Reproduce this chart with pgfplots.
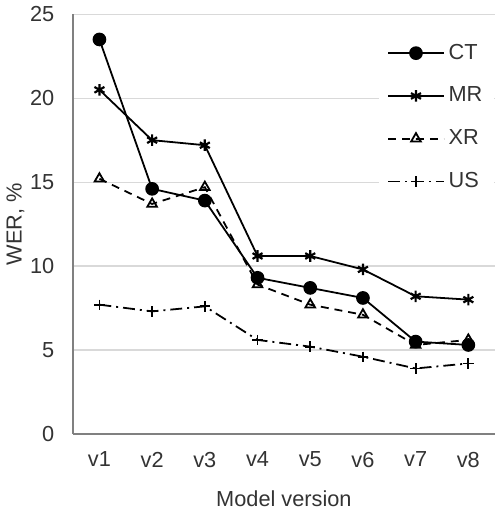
\documentclass[border=0pt]{standalone}
\usepackage{pgfplots}
\pgfplotsset{compat=1.18}
\usepackage{fontspec}
\setmainfont{Liberation Sans}
\begin{document}
\begin{tikzpicture}
\begin{axis}[
  scale only axis, width=212.5bp, height=211.5bp,
  xmin=0.5, xmax=8.5, ymin=0, ymax=25,
  xtick={1,2,3,4,5,6,7,8},
  xticklabels={v1,v2,v3,v4,v5,v6,v7,v8},
  ytick={0,5,10,15,20,25},
  axis x line=bottom, axis y line=left,
  axis line style={-, draw=black!50, line width=0.8bp},
  major tick length=0pt,
  ymajorgrids, grid style={draw=black!15, line width=0.6bp},
  /pgf/number format/assume math mode=true,
  tick label style={font=\fontsize{11}{13}\selectfont, text=black!80},
  xticklabel style={yshift=-5.5bp},
  yticklabel style={xshift=-6bp},
  label style={font=\fontsize{11}{13}\selectfont, text=black!80},
  xlabel={Model version},
  ylabel={WER, \%},
  xlabel style={at={(axis description cs:0.5,-0.1537)}, anchor=center},
  ylabel style={at={(axis description cs:-0.1365,0.5)}, anchor=center},
  legend style={at={(1,0.963)}, anchor=north east, draw=none, fill=white,
    font=\fontsize{11}{13}\selectfont, text=black!80, row sep=8.5bp,
    inner xsep=4bp, inner ysep=5bp},
  legend cell align=left,
  legend image code/.code={\draw[mark repeat=2,mark phase=2] plot coordinates {(0bp,0bp) (14bp,0bp) (28bp,0bp)};},
  every axis plot/.append style={line width=0.9bp, black},
]
\addplot[mark=*, mark size=3bp] coordinates {
 (1,23.5) (2,14.6) (3,13.9) (4,9.3) (5,8.7) (6,8.1) (7,5.5) (8,5.3)};
\addlegendentry{CT}
\addplot[mark=asterisk, mark size=2.9bp, mark options={line width=1.1bp}] coordinates {
 (1,20.5) (2,17.5) (3,17.2) (4,10.6) (5,10.6) (6,9.8) (7,8.2) (8,8.0)};
\addlegendentry{MR}
\addplot[dashed, dash pattern=on 4bp off 3bp, mark=triangle, mark size=2.8bp, mark options={solid, fill=white}] coordinates {
 (1,15.2) (2,13.7) (3,14.7) (4,8.9) (5,7.7) (6,7.1) (7,5.3) (8,5.6)};
\addlegendentry{XR}
\addplot[dash pattern=on 6bp off 2.5bp on 1bp off 2.5bp, mark=+, mark size=2.6bp, mark options={solid}] coordinates {
 (1,7.7) (2,7.3) (3,7.6) (4,5.6) (5,5.2) (6,4.6) (7,3.9) (8,4.2)};
\addlegendentry{US}
\end{axis}
\end{tikzpicture}
\end{document}
